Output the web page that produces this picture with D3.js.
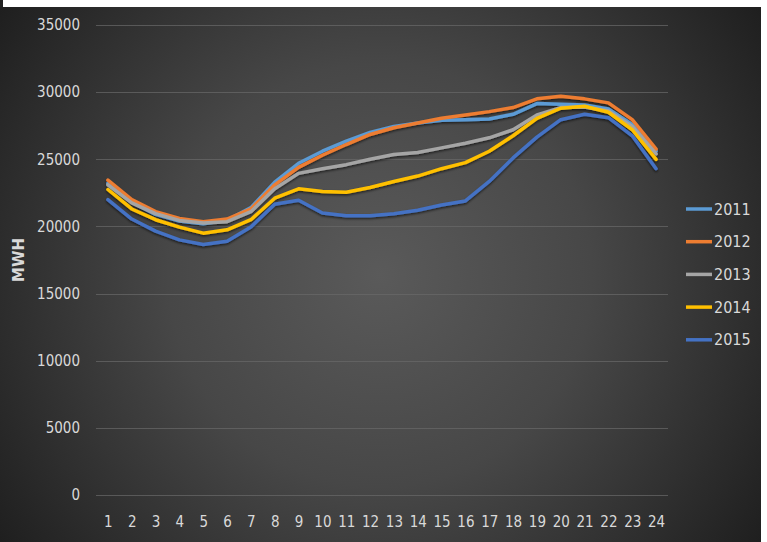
<!DOCTYPE html>
<html>
<head>
<meta charset="utf-8">
<script src="https://cdn.jsdelivr.net/npm/d3@7"></script>
<style>
  html, body { margin: 0; padding: 0; background: #ffffff; }
  svg { display: block; }
  text { font-family: "Liberation Sans Narrow", "DejaVu Sans Condensed", "Open Sans", sans-serif; }
</style>
</head>
<body>
<svg id="chart" width="767" height="542"></svg>
<script>
// Hourly load profile (MWH) for each year, hours 1..24
const hours = d3.range(1, 25);
const yTicks = [0, 5000, 10000, 15000, 20000, 25000, 30000, 35000];
const years = ["2011", "2012", "2013", "2014", "2015"];
const colors = ["#5b9bd5", "#ed7d31", "#a5a5a5", "#ffc000", "#4472c4"];

const load2011 = [23200, 21800, 20900, 20400, 20200, 20450, 21400, 23300, 24700, 25600, 26350, 27000,
                  27450, 27700, 27900, 27950, 28000, 28350, 29150, 29100, 29050, 28750, 27600, 25600];
const load2012 = [23450, 22000, 21100, 20600, 20350, 20550, 21300, 23100, 24400, 25300, 26100, 26850,
                  27350, 27700, 28050, 28300, 28550, 28850, 29500, 29700, 29500, 29200, 27950, 25750];
const load2013 = [23100, 21750, 20950, 20450, 20250, 20350, 21100, 22800, 23950, 24300, 24600, 25000,
                  25350, 25500, 25850, 26200, 26600, 27200, 28300, 28850, 28900, 28600, 27450, 25400];
const load2014 = [22750, 21300, 20500, 19950, 19500, 19750, 20500, 22100, 22800, 22600, 22550, 22900,
                  23350, 23750, 24300, 24750, 25600, 26750, 28050, 28800, 28950, 28500, 27200, 25000];
const load2015 = [22000, 20550, 19650, 19000, 18650, 18900, 19950, 21650, 21950, 21000, 20800, 20800,
                  20950, 21200, 21600, 21900, 23350, 25100, 26650, 27950, 28350, 28100, 26750, 24300];

const seriesValues = [load2011, load2012, load2013, load2014, load2015];

const svg = d3.select("#chart");
const W = 767, H = 542;

// Dark chart area with a soft radial glow
const defs = svg.append("defs");
const grad = defs.append("radialGradient")
  .attr("id", "bg").attr("gradientUnits", "userSpaceOnUse")
  .attr("cx", 380).attr("cy", 275).attr("r", 470);
grad.append("stop").attr("offset", "0%").attr("stop-color", "#5a5a5a");
grad.append("stop").attr("offset", "45%").attr("stop-color", "#474747");
grad.append("stop").attr("offset", "100%").attr("stop-color", "#1e1e1e");

const shadow = defs.append("filter").attr("id", "shadow")
  .attr("x", "-5%").attr("y", "-5%").attr("width", "110%").attr("height", "120%");
shadow.append("feDropShadow").attr("dx", 0).attr("dy", 1.5).attr("stdDeviation", 1.2)
  .attr("flood-color", "#000").attr("flood-opacity", 0.6);

svg.append("rect").attr("x", 0).attr("y", 0).attr("width", W).attr("height", H).attr("fill", "#ffffff");
svg.append("rect").attr("x", 0).attr("y", 7).attr("width", 761).attr("height", H - 7).attr("fill", "url(#bg)");
svg.append("rect").attr("x", 0).attr("y", 0).attr("width", 3).attr("height", 7).attr("fill", "#222");

const plot = { left: 96, right: 668, top: 25, bottom: 495 };

const x = d3.scalePoint().domain(hours).range([plot.left, plot.right]).padding(0.5);
const y = d3.scaleLinear().domain([0, 35000]).range([plot.bottom, plot.top]);

// Horizontal gridlines
svg.append("g")
  .selectAll("line").data(yTicks).join("line")
  .attr("x1", plot.left).attr("x2", plot.right)
  .attr("y1", d => Math.round(y(d)) + 0.5).attr("y2", d => Math.round(y(d)) + 0.5)
  .attr("stroke", "#6a6a6a").attr("stroke-width", 1).attr("stroke-opacity", 0.7);

// Y axis labels
const yAxis = d3.axisLeft(y).tickValues(yTicks).tickSize(0).tickPadding(0).tickFormat(d3.format("d"));
const gy = svg.append("g").attr("transform", `translate(${plot.left - 16},0)`).call(yAxis);
gy.select(".domain").remove();
gy.selectAll("text").attr("fill", "#d9d9d9").style("font-size", "15px");

// X axis labels
const xAxis = d3.axisBottom(x).tickSize(0).tickPadding(0);
const gx = svg.append("g").attr("transform", `translate(0,${plot.bottom + 21})`).call(xAxis);
gx.select(".domain").remove();
gx.selectAll("text").attr("fill", "#d9d9d9").style("font-size", "15px");

// Axis title
svg.append("text")
  .attr("transform", `translate(24,${(plot.top + plot.bottom) / 2}) rotate(-90)`)
  .attr("text-anchor", "middle")
  .attr("fill", "#d9d9d9").style("font-size", "15px").style("font-weight", "bold")
  .style("font-family", "'DejaVu Sans', sans-serif")
  .text("MWH");

// Series lines
const line = d3.line().x((d, i) => x(hours[i])).y(d => y(d));
svg.append("g").attr("filter", "url(#shadow)")
  .selectAll("path").data(seriesValues).join("path")
  .attr("d", line)
  .attr("fill", "none")
  .attr("stroke", (d, i) => colors[i])
  .attr("stroke-width", 3.5)
  .attr("stroke-linejoin", "round")
  .attr("stroke-linecap", "round");

// Legend
const legend = svg.append("g").attr("transform", "translate(686,209)");
const item = legend.selectAll("g").data(years).join("g")
  .attr("transform", (d, i) => `translate(0,${i * 32.7})`);
item.append("line").attr("x1", 0).attr("x2", 26).attr("y1", 0).attr("y2", 0)
  .attr("stroke", (d, i) => colors[i]).attr("stroke-width", 3.5);
item.append("text").attr("x", 28).attr("y", 0).attr("dy", "0.35em")
  .attr("fill", "#d9d9d9").style("font-size", "16px").text(d => d);
</script>
</body>
</html>
